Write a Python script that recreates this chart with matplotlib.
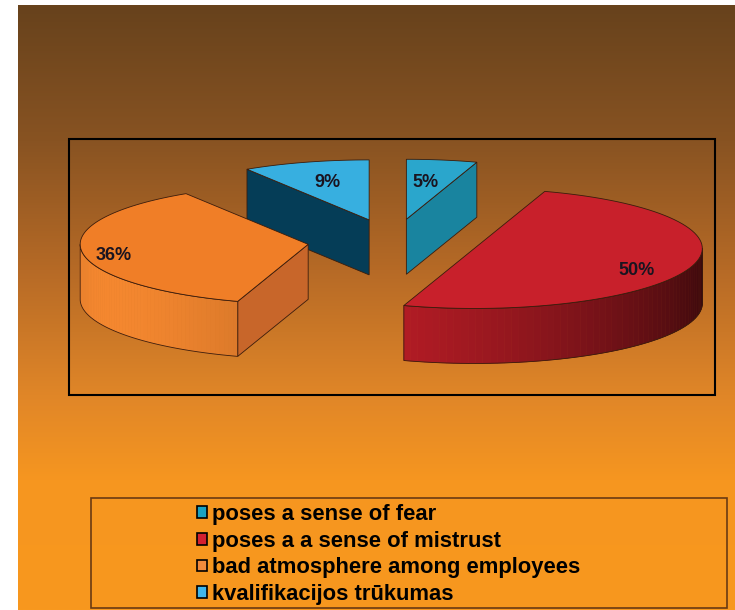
import numpy as np
import matplotlib.pyplot as plt
from matplotlib.patches import Polygon, Rectangle, Patch

# data
labels = ['poses a sense of fear', 'poses a a sense of mistrust',
          'bad atmosphere among employees', 'kvalifikacijos trūkumas']
values = [5, 50, 36, 9]
pct_text = ['5%', '50%', '36%', '9%']

# colours per slice : top face, cut face, side base, legend swatch
top_col = ['#2aa6cc', '#c8202b', '#f07e27', '#37afe0']
cut_col = ['#19849f', '#7a1418', '#c8662a', '#053d57']
side_col = ['#1a8aa8', '#c41e28', '#f4872f', '#2a90b8']
leg_col = ['#1aa2c2', '#d42030', '#f08a3c', '#40b6ea']
label_r = [0.55, 0.75, 0.86, 0.65]
label_dy = [-4, 8, 5, 0]

# pie geometry (pixel units)
cx, cy = 393, 241.5
ra, rb = 228, 60
h = 55
explode = 0.375

W, H = 735, 610
fig = plt.figure(figsize=(W / 100, H / 100), dpi=100, facecolor='white')
ax = fig.add_axes([0, 0, 1, 1])
ax.set_xlim(0, W)
ax.set_ylim(H, 0)
ax.axis('off')

# background gradient
stops_y = [5, 140, 270, 395, 480, 610]
stops_c = np.array([[103, 66, 28], [136, 83, 34], [182, 106, 38],
                    [224, 134, 40], [246, 150, 32], [248, 152, 30]]) / 255
yy = np.linspace(5, 610, 400)
grad = np.stack([np.interp(yy, stops_y, stops_c[:, k]) for k in range(3)], axis=1)
ax.imshow(grad[:, None, :], extent=(18, W, 610, 5), aspect='auto', zorder=0)

# plot frame
ax.add_patch(Rectangle((69, 139), 715 - 69, 395 - 139, fill=False,
                       edgecolor='black', lw=1.5, zorder=1))


def pt(th, r, ox, oy, dz=0.0):
    t = np.radians(th)
    return cx + ox + r * ra * np.sin(t), cy + oy - r * rb * np.cos(t) + dz


def shade(th):
    return 0.62 + 0.38 * np.cos(np.radians(th - 240))


edge = '#3a1c0c'
angles = np.cumsum([0] + values) * 3.6
slices = []
for i in range(len(values)):
    t1, t2 = angles[i], angles[i + 1]
    tm = (t1 + t2) / 2
    ox = explode * ra * np.sin(np.radians(tm))
    oy = -explode * rb * np.cos(np.radians(tm))
    slices.append((i, t1, t2, tm, ox, oy))

# back slices first
slices.sort(key=lambda s: -np.cos(np.radians(s[3])))
z = 2
for i, t1, t2, tm, ox, oy in slices:
    c0 = pt(0, 0, ox, oy)
    # cut faces
    for th, nrm in ((t1, t1 - 90), (t2, t2 + 90)):
        if np.cos(np.radians(nrm)) < -1e-6:
            p = pt(th, 1, ox, oy)
            face = [c0, p, (p[0], p[1] + h), (c0[0], c0[1] + h)]
            ax.add_patch(Polygon(face, closed=True, facecolor=cut_col[i],
                                 edgecolor=edge, lw=0.6, zorder=z))
    # outer side face (front half only)
    lo, hi = max(t1, 90), min(t2, 270)
    if hi > lo:
        ths = np.linspace(lo, hi, 60)
        base = np.array(plt.matplotlib.colors.to_rgb(side_col[i]))
        for k in range(len(ths) - 1):
            a1, a2 = ths[k], ths[k + 1]
            p1, p2 = pt(a1, 1, ox, oy), pt(a2, 1, ox, oy)
            col = np.clip(base * shade((a1 + a2) / 2), 0, 1)
            ax.add_patch(Polygon([p1, p2, (p2[0], p2[1] + h), (p1[0], p1[1] + h)],
                                 closed=True, facecolor=col, edgecolor=col,
                                 lw=0.4, zorder=z))
        top = [pt(a, 1, ox, oy) for a in ths]
        bot = [(x, y + h) for x, y in top[::-1]]
        ax.add_patch(Polygon(top + bot, closed=True, fill=False,
                             edgecolor=edge, lw=0.6, zorder=z + 0.5))
    # top face
    arc = [pt(a, 1, ox, oy) for a in np.linspace(t1, t2, 80)]
    ax.add_patch(Polygon([c0] + arc, closed=True, facecolor=top_col[i],
                         edgecolor=edge, lw=0.6, zorder=z + 0.6))
    lx, ly = pt(tm, label_r[i], ox, oy)
    ax.text(lx, ly + label_dy[i], pct_text[i], ha='center', va='center',
            fontsize=13, fontweight='bold', family='Liberation Sans',
            color='#1a1420', zorder=20)
    z += 1

# legend
ax.add_patch(Rectangle((91, 498), 727 - 91, 608 - 498, fill=False,
                       edgecolor='#6a3a12', lw=1.2, zorder=1))
handles = [Patch(facecolor=c, edgecolor='black', lw=1.2) for c in leg_col]
ax.legend(handles, labels, loc='upper left', bbox_to_anchor=(186, 493),
          bbox_transform=ax.transData, frameon=False,
          prop={'family': 'Liberation Sans', 'weight': 'bold', 'size': 15.8},
          handlelength=0.45, handleheight=0.45, handletextpad=0.25,
          labelspacing=0.26, borderpad=0.0)

fig.savefig('out.png', dpi=100, facecolor='white')
